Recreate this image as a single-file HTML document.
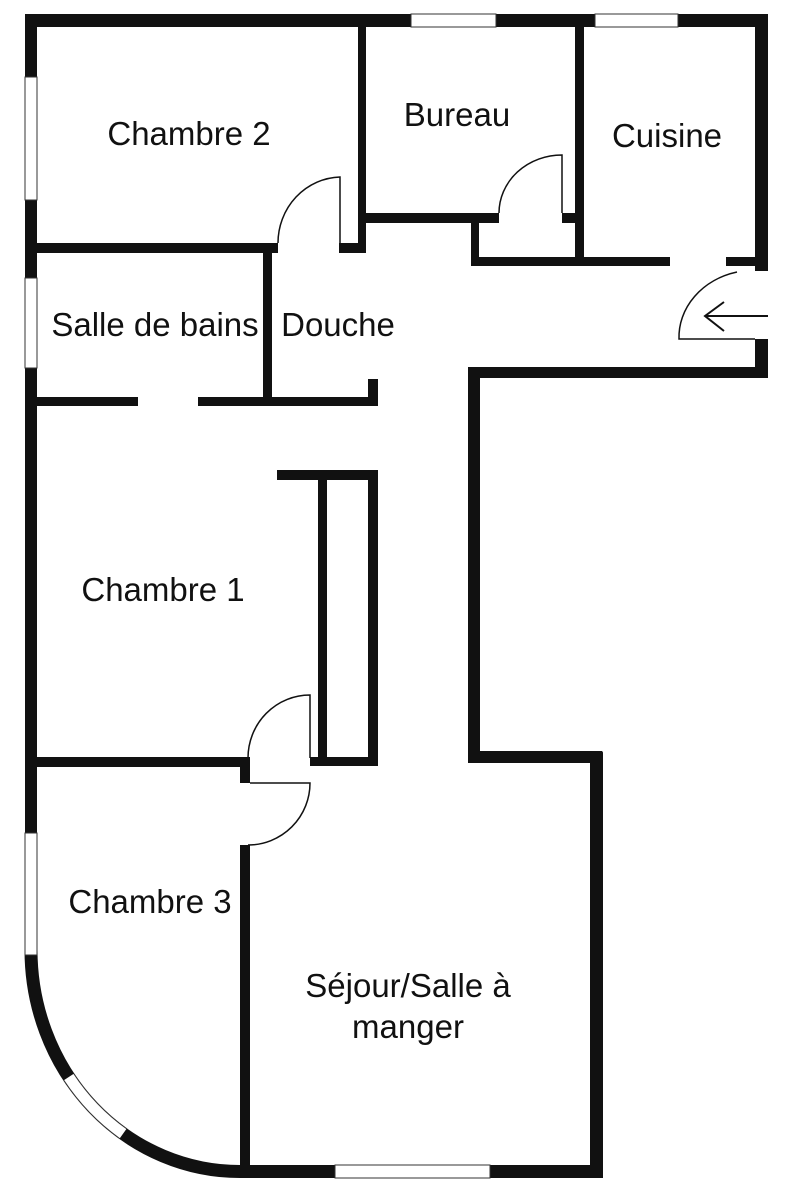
<!DOCTYPE html>
<html><head><meta charset="utf-8"><style>
html,body{margin:0;padding:0;background:#fff;width:800px;height:1200px;overflow:hidden}
svg{display:block}
text{font-family:"Liberation Sans",sans-serif;font-size:33px;fill:#111;text-anchor:middle}
</style></head><body>
<svg width="800" height="1200" viewBox="0 0 800 1200" xmlns="http://www.w3.org/2000/svg">
<g fill="#111">
<rect x="25" y="14" width="743" height="13" rx="3"/>
<rect x="25" y="14" width="12" height="942"/>
<rect x="755" y="14" width="13" height="257"/>
<rect x="755" y="339" width="13" height="39"/>
<rect x="471" y="367" width="297" height="11"/>
<rect x="468" y="367" width="12" height="396"/>
<rect x="468" y="751" width="134" height="12"/>
<rect x="590" y="751" width="13" height="427" rx="2"/>
<rect x="240" y="1165" width="363" height="13"/>
<rect x="358" y="27" width="8" height="226"/>
<rect x="339" y="243" width="27" height="10"/>
<rect x="37" y="243" width="241" height="10"/>
<rect x="263" y="253" width="9" height="153"/>
<rect x="37" y="397" width="101" height="9"/>
<rect x="198" y="397" width="180" height="9"/>
<rect x="368" y="379" width="10" height="27"/>
<rect x="366" y="213" width="133" height="10"/>
<rect x="562" y="213" width="13" height="10"/>
<rect x="471" y="213" width="8" height="53"/>
<rect x="471" y="257" width="199" height="9"/>
<rect x="575" y="27" width="9" height="239"/>
<rect x="726" y="257" width="29" height="9"/>
<rect x="277" y="470" width="96" height="10"/>
<rect x="318" y="470" width="9" height="296"/>
<rect x="368" y="470" width="10" height="296"/>
<rect x="310" y="757" width="68" height="9"/>
<rect x="37" y="757" width="211" height="10"/>
<rect x="240" y="757" width="10" height="26"/>
<rect x="240" y="845" width="10" height="325"/>
</g>
<path d="M31 950 A209 221.5 0 0 0 240 1171.5" fill="none" stroke="#111" stroke-width="13"/>
<g fill="#fff" stroke="#333" stroke-width="1">
<rect x="411" y="14" width="85" height="13"/>
<rect x="595" y="14" width="83" height="13"/>
<rect x="25" y="77" width="12" height="123"/>
<rect x="25" y="278" width="12" height="90"/>
<rect x="25" y="833" width="12" height="122"/>
<rect x="335" y="1165" width="155" height="13"/>
</g>
<path d="M68.8 1077 A209 221.5 0 0 0 123.1 1133.6" fill="none" stroke="#333" stroke-width="13"/>
<path d="M68.8 1077 A209 221.5 0 0 0 123.1 1133.6" fill="none" stroke="#fff" stroke-width="11"/>
<g fill="none" stroke="#111" stroke-width="1.5">
<path d="M340 243 V177 A64 66 0 0 0 278 243"/>
<path d="M562 213 V155 A63 58 0 0 0 499 213"/>
<path d="M755 339 H679 A76 67 0 0 1 737 272"/>
<path d="M310 758 V695 A62 63 0 0 0 248 758"/>
<path d="M250 783 H310 A62 62 0 0 1 248 845"/>
<path d="M768 316 H705 M724 302 L705 316 L724 331" stroke-width="2"/>
</g>
<text x="189" y="145">Chambre 2</text>
<text x="457" y="126">Bureau</text>
<text x="667" y="147">Cuisine</text>
<text x="155" y="336">Salle de bains</text>
<text x="338" y="336">Douche</text>
<text x="163" y="601">Chambre 1</text>
<text x="150" y="913">Chambre 3</text>
<text x="408" y="997">Séjour/Salle à</text>
<text x="408" y="1038">manger</text>
</svg>
</body></html>
